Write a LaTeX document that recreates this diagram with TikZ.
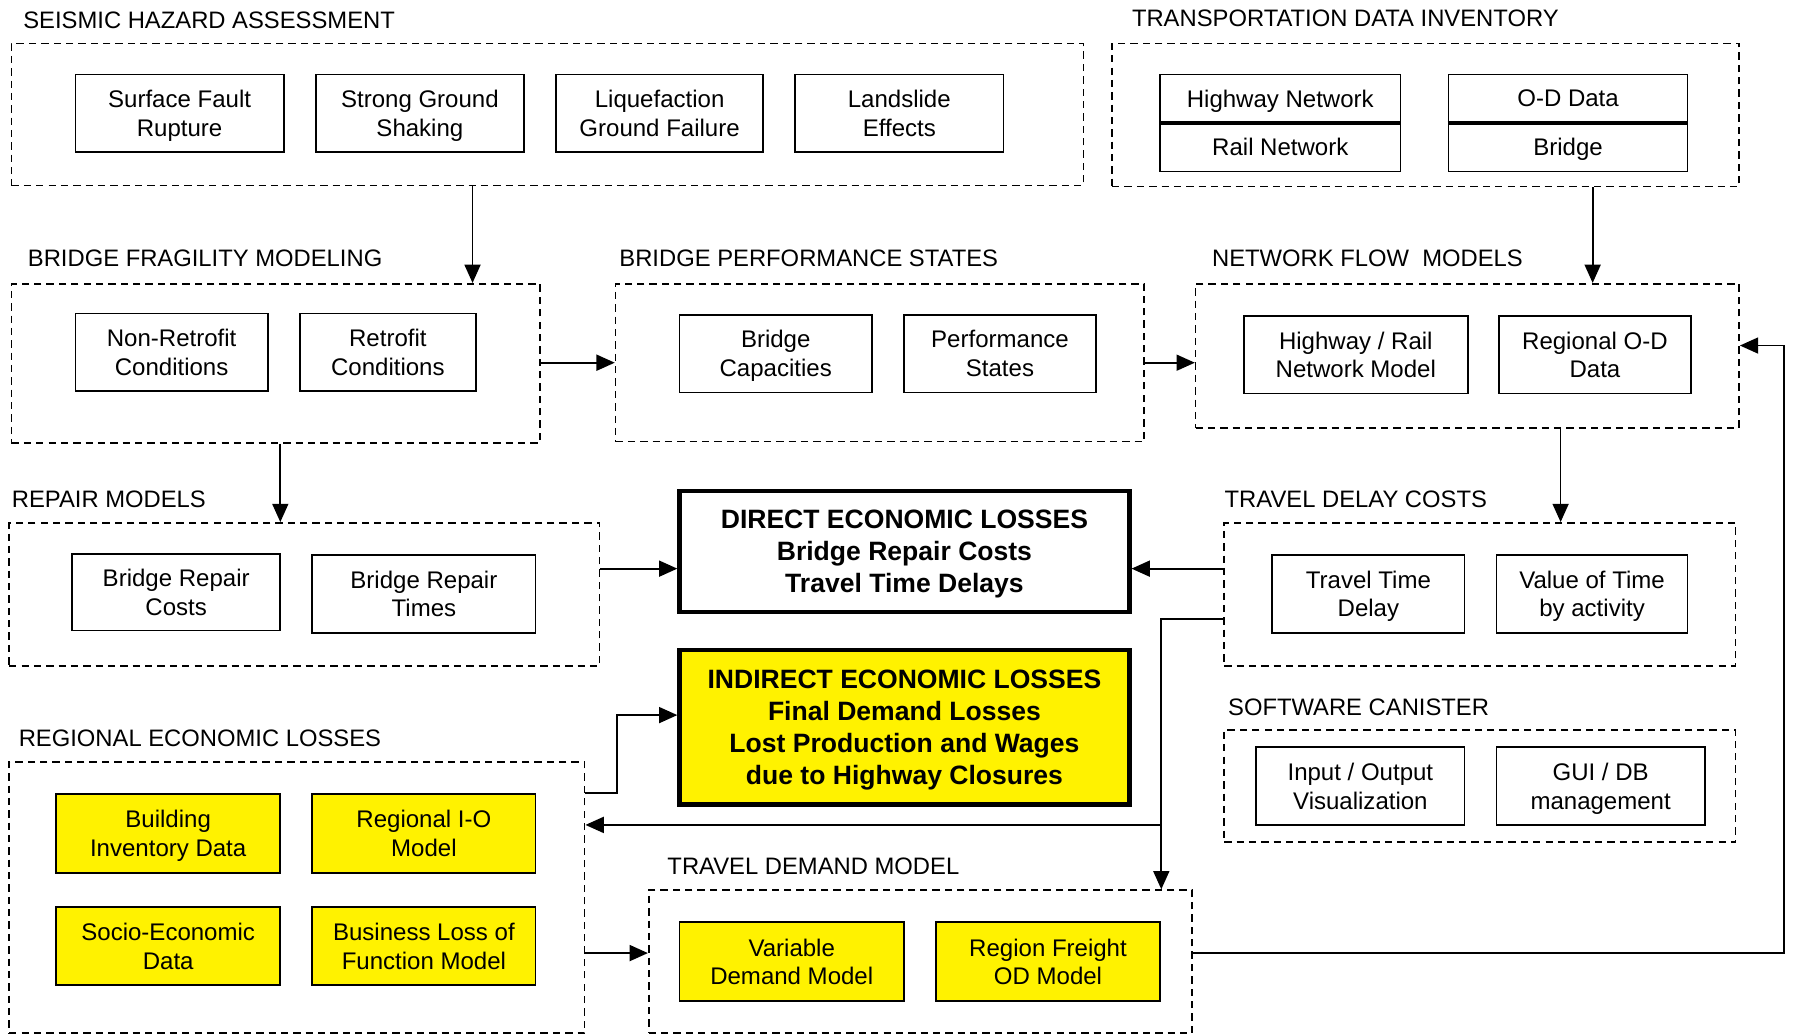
\documentclass[tikz,border=0pt]{standalone}
\usepackage{fontspec}
\setmainfont{Liberation Sans}
\usetikzlibrary{arrows.meta}
\tikzset{
  bx/.style={draw, line width=0.75pt, inner sep=0pt, align=center, text depth=0pt, font=\fontsize{10.5}{12.5}\selectfont},
  ybx/.style={bx, fill=yellow},
  grp/.style={draw, dashed, dash pattern=on 3.2pt off 2.2pt, line width=0.7pt, inner sep=0pt},
  ttl/.style={anchor=west, inner sep=0pt, font=\fontsize{10.4}{12}\selectfont},
  big/.style={draw, line width=2pt, inner sep=0pt, align=center, text depth=0pt, font=\fontsize{11.6}{14}\selectfont\bfseries},
  arr/.style={line width=0.75pt, -{Triangle[length=8pt,width=7pt]}},
  ln/.style={line width=0.75pt}
}
\newcommand{\mkbox}[7][bx]{%
  \node[#1, minimum width={(#5-#3)*0.5pt}, minimum height={(#6-#4)*0.5pt}] (#2) at ({(#3+#5)/2},{(#4+#6)/2}) {#7};}
\begin{document}
\begin{tikzpicture}[x=0.5pt,y=-0.5pt]
\useasboundingbox (0,0) rectangle (1568,905);

% ---------- SEISMIC HAZARD ASSESSMENT
\node[ttl] (t1) at (20,18) {SEISMIC HAZARD ASSESSMENT};
\mkbox[grp]{g1}{10}{38}{947}{162}{}
\mkbox{sfr}{66}{65}{248}{133}{Surface Fault\\Rupture}
\mkbox{sgs}{276}{65}{458}{133}{Strong Ground\\Shaking}
\mkbox{lgf}{486}{65}{667}{133}{Liquefaction\\Ground Failure}
\mkbox{lse}{695}{65}{877}{133}{Landslide\\Effects}

% ---------- TRANSPORTATION DATA INVENTORY
\node[ttl] (t2) at (989,16) {TRANSPORTATION DATA INVENTORY};
\mkbox[grp]{g2}{972}{38}{1520}{163}{}
\mkbox{hwn}{1014}{65}{1224}{107}{Highway Network}
\mkbox{rln}{1014}{107}{1224}{150}{Rail Network}
\mkbox{odd}{1266}{65}{1475}{107}{O-D Data}
\mkbox{brd}{1266}{107}{1475}{150}{Bridge}
\draw[line width=1.6pt] (hwn.south west) -- (hwn.south east);
\draw[line width=1.6pt] (odd.south west) -- (odd.south east);

% ---------- BRIDGE FRAGILITY MODELING
\node[ttl] (t3) at (24,226) {BRIDGE FRAGILITY MODELING};
\mkbox[grp]{g3}{10}{248}{472}{387}{}
\mkbox{nrc}{66}{274}{234}{342}{Non-Retrofit\\Conditions}
\mkbox{rc}{262}{274}{416}{342}{Retrofit\\Conditions}

% ---------- BRIDGE PERFORMANCE STATES
\node[ttl] (t4) at (541,226) {BRIDGE PERFORMANCE STATES};
\mkbox[grp]{g4}{538}{248}{1000}{386}{}
\mkbox{bc}{594}{275}{762}{343}{Bridge\\Capacities}
\mkbox{ps}{790}{275}{958}{343}{Performance\\States}

% ---------- NETWORK FLOW MODELS
\node[ttl] (t5) at (1059,226) {NETWORK FLOW\ \ MODELS};
\mkbox[grp]{g5}{1045}{248}{1520}{374}{}
\mkbox{hrn}{1087}{276}{1283}{344}{Highway / Rail\\Network Model}
\mkbox{rod}{1310}{276}{1478}{344}{Regional O-D\\Data}

% ---------- REPAIR MODELS
\node[ttl] (t6) at (10,436) {REPAIR MODELS};
\mkbox[grp]{g6}{8}{457}{524}{582}{}
\mkbox{brc}{63}{484}{245}{551}{Bridge Repair\\Costs}
\mkbox{brt}{273}{485}{468}{553}{Bridge Repair\\Times}

% ---------- TRAVEL DELAY COSTS
\node[ttl] (t7) at (1070,436) {TRAVEL DELAY COSTS};
\mkbox[grp]{g7}{1070}{457}{1517}{582}{}
\mkbox{ttd}{1112}{485}{1280}{553}{Travel Time\\Delay}
\mkbox{vot}{1308}{485}{1475}{553}{Value of Time\\by activity}

% ---------- DIRECT / INDIRECT
\mkbox[big]{del}{594}{429}{987}{535}{DIRECT ECONOMIC LOSSES\\Bridge Repair Costs\\Travel Time Delays}
\mkbox[big,fill=yellow]{iel}{594}{568}{987}{703}{INDIRECT ECONOMIC LOSSES\\Final Demand Losses\\Lost Production and Wages\\due to Highway Closures}

% ---------- SOFTWARE CANISTER
\node[ttl] (t8) at (1073,618) {SOFTWARE CANISTER};
\mkbox[grp]{g8}{1070}{638}{1517}{736}{}
\mkbox{iov}{1098}{653}{1280}{721}{Input / Output\\Visualization}
\mkbox{gui}{1308}{653}{1490}{721}{GUI / DB\\management}

% ---------- REGIONAL ECONOMIC LOSSES
\node[ttl] (t9) at (16,645) {REGIONAL ECONOMIC LOSSES};
\mkbox[grp]{g9}{8}{666}{511}{903}{}
\mkbox[ybx]{bid}{49}{694}{245}{763}{Building\\Inventory Data}
\mkbox[ybx]{rio}{273}{694}{468}{763}{Regional I-O\\Model}
\mkbox[ybx]{sed}{49}{793}{245}{861}{Socio-Economic\\Data}
\mkbox[ybx]{blf}{273}{793}{468}{861}{Business Loss of\\Function Model}

% ---------- TRAVEL DEMAND MODEL
\node[ttl] (t10) at (583,757) {TRAVEL DEMAND MODEL};
\mkbox[grp]{g10}{567}{778}{1042}{903}{}
\mkbox[ybx]{vdm}{594}{806}{790}{875}{Variable\\Demand Model}
\mkbox[ybx]{rfo}{818}{806}{1014}{875}{Region Freight\\OD Model}

% ---------- helper coordinates
\coordinate (x413) at (413,0);
\coordinate (x1392) at (1392,0);
\coordinate (x245) at (245,0);
\coordinate (x1364) at (1364,0);
\coordinate (y317) at (0,317);
\coordinate (y497) at (0,497);
\coordinate (y693) at (0,693);
\coordinate (y625) at (0,625);
\coordinate (y541) at (0,541);
\coordinate (y721) at (0,721);
\coordinate (y833) at (0,833);
\coordinate (y302) at (0,302);
\coordinate (x539) at (539,0);
\coordinate (x1015) at (1015,0);
\coordinate (x1559) at (1559,0);

% ---------- connectors
\draw[arr] (g1.south -| x413) -- (g3.north -| x413);
\draw[arr] (g2.south -| x1392) -- (g5.north -| x1392);
\draw[arr] (g3.east |- y317) -- (g4.west |- y317);
\draw[arr] (g4.east |- y317) -- (g5.west |- y317);
\draw[arr] (g3.south -| x245) -- (g6.north -| x245);
\draw[arr] (g5.south -| x1364) -- (g7.north -| x1364);
\draw[arr] (g6.east |- y497) -- (del.west |- y497);
\draw[arr] (g7.west |- y497) -- (del.east |- y497);
\draw[arr] (g9.east |- y693) -- (x539 |- y693) -- (x539 |- y625) -- (iel.west |- y625);
\draw[arr] (g7.west |- y541) -- (x1015 |- y541) -- (g10.north -| x1015);
\draw[arr] (x1015 |- y721) -- (g9.east |- y721);
\draw[arr] (g9.east |- y833) -- (g10.west |- y833);
\draw[arr] (g10.east |- y833) -- (x1559 |- y833) -- (x1559 |- y302) -- (g5.east |- y302);
\end{tikzpicture}
\end{document}
